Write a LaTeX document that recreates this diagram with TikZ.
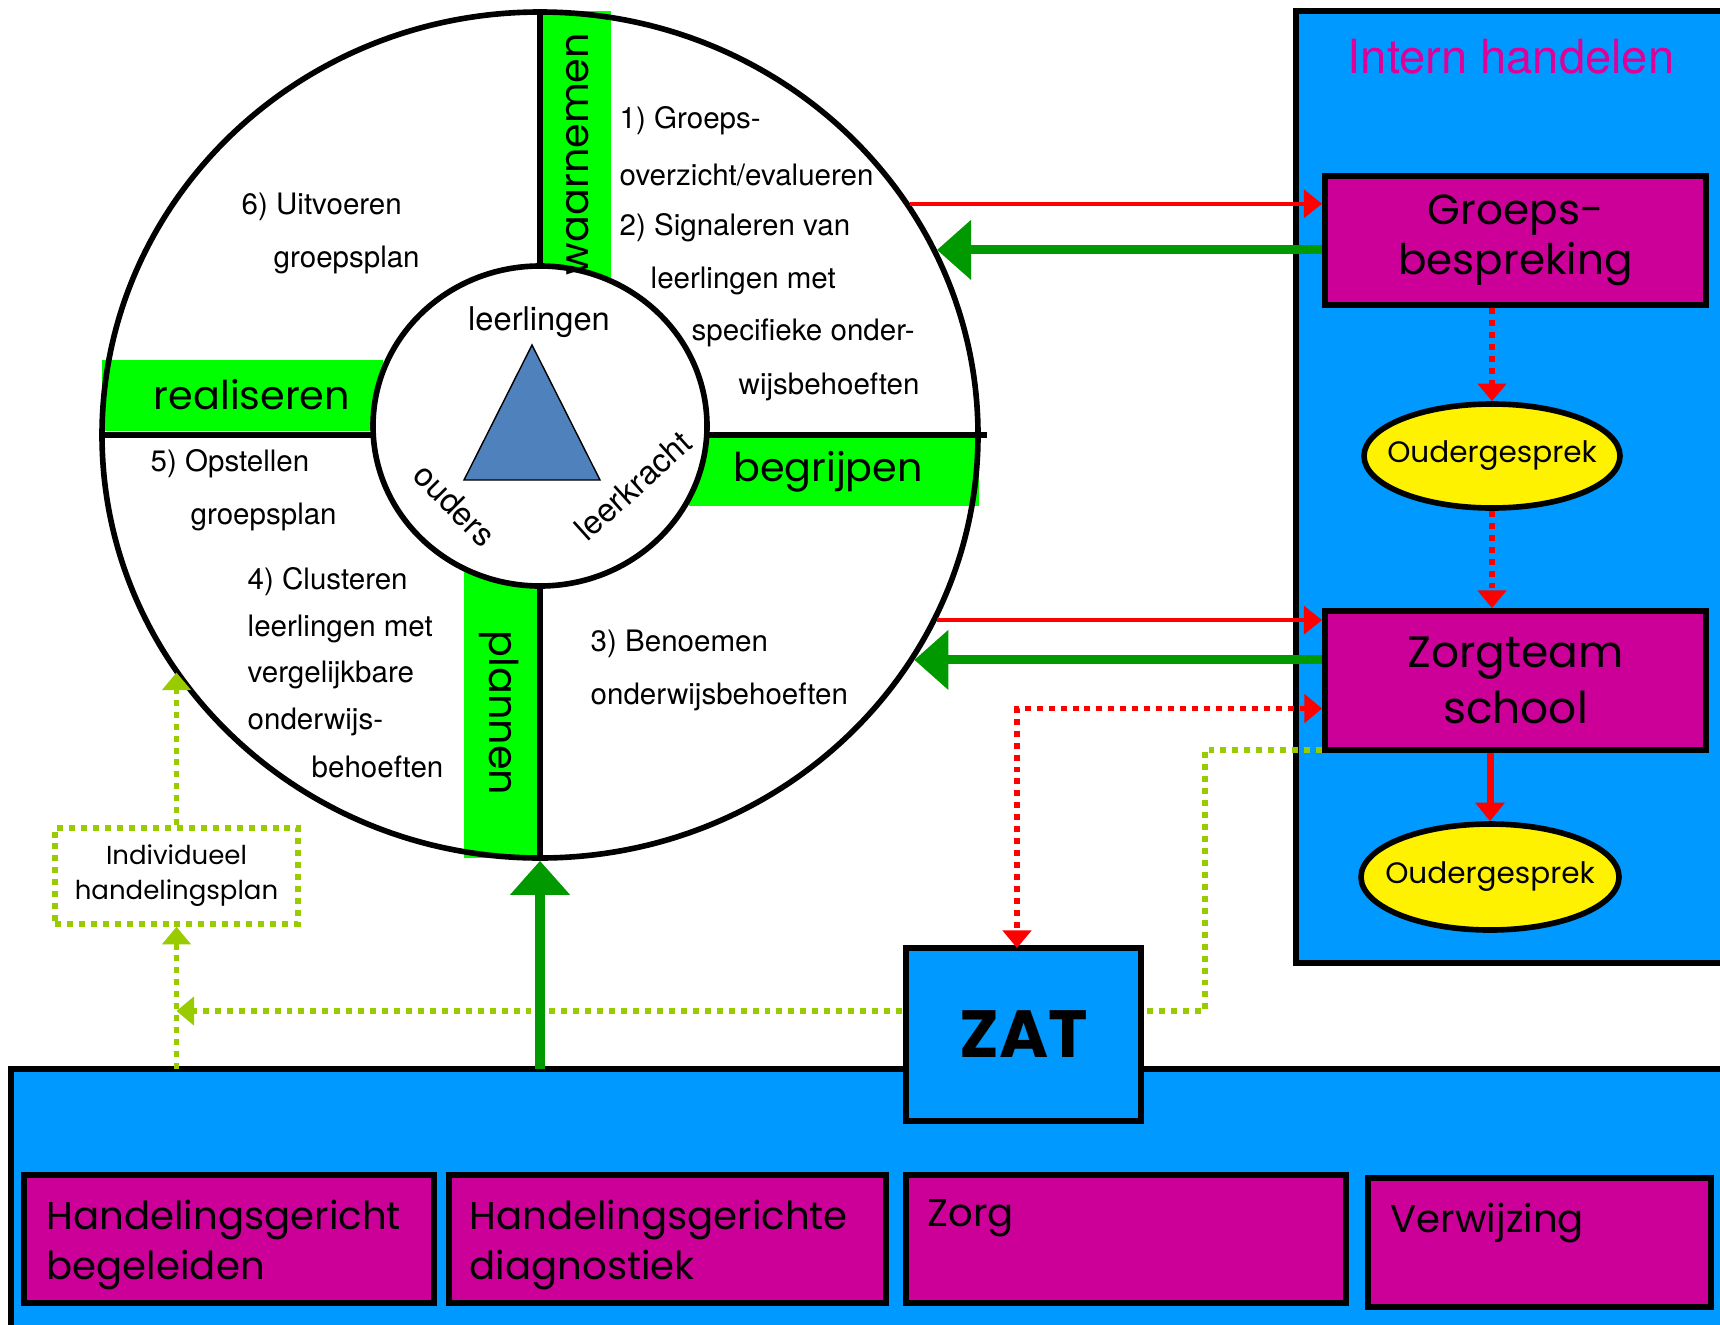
\documentclass[tikz,border=0pt]{standalone}
\usepackage{fontspec}
\setmainfont{TeX Gyre Heros}
\newfontfamily\comicfont{Poppins}
\usetikzlibrary{arrows.meta,shapes.geometric,positioning}

\definecolor{paneblue}{HTML}{0099FF}
\definecolor{boxmagenta}{HTML}{CC0099}
\definecolor{bandgreen}{HTML}{00FF00}
\definecolor{arrowgreen}{HTML}{009900}
\definecolor{dotgreen}{HTML}{99CC00}
\definecolor{triblue}{HTML}{4F81BD}
\definecolor{titlepink}{HTML}{DD0099}

\tikzset{
  panel/.style={draw=black, line width=1.7pt, fill=paneblue, inner sep=0pt, outer sep=0pt},
  magbox/.style={draw=black, line width=1.7pt, fill=boxmagenta, inner sep=0pt, align=center,
                 font=\comicfont\fontsize{12}{14.3}\selectfont},
  parentbubble/.style={ellipse, draw=black, line width=1.6pt, fill=yellow, inner xsep=-1.5mm, inner ysep=0pt,
                 font=\comicfont\fontsize{8.4}{10}\selectfont},
  bandlabel/.style={inner sep=0pt, font=\comicfont\fontsize{11.3}{13}\selectfont},
  wheeltext/.style={anchor=west, inner sep=0pt, font=\fontsize{8.4}{10}\selectfont},
  hubtext/.style={inner sep=0pt, font=\fontsize{9.3}{11}\selectfont},
  basetext/.style={anchor=north west, inner sep=0pt, align=left,
                 font=\comicfont\fontsize{11}{14.2}\selectfont},
  redline/.style={draw=red, line width=1.1pt, -{Triangle[length=5.2pt,width=8pt]}},
  greenline/.style={draw=arrowgreen, line width=2.6pt, -{Triangle[length=9.7pt,width=16.5pt]}},
  reddots/.style={draw=red, line width=1.7pt, dash pattern=on 1.7pt off 1.7pt},
  greendots/.style={draw=dotgreen, line width=1.6pt, dash pattern=on 1.7pt off 1.7pt},
  redtip/.style={-{Triangle[length=5pt,width=8pt]}},
  greentip/.style={-{Triangle[length=5pt,width=8pt]}}
}

\begin{document}
\begin{tikzpicture}[x=0.1mm, y=-0.1mm]
\useasboundingbox (0,0) rectangle (1720,1324);

% panels
\node[panel, anchor=north west, minimum width=46mm, minimum height=95.2mm] (intern) at (1296,11) {};
\node[inner sep=0pt, text=titlepink, font=\fontsize{13.4}{16}\selectfont] (interntitle) at (1511,57) {Intern handelen};
\node[panel, anchor=north west, minimum width=176mm, minimum height=30mm] (basis) at (11,1069) {};

% the wheel
\fill[bandgreen] (541,11) rectangle (611,278);
\fill[bandgreen] (102,360) rectangle (383,431);
\fill[bandgreen] (689,435) rectangle (979,506);
\fill[bandgreen] (464,572) rectangle (539,858);
\node[ellipse, draw, line width=1.6pt, minimum width=87.6mm, minimum height=84.6mm] (wheel) at (540,435) {};
\draw[line width=1.6pt] (wheel.north) -- (wheel.south);
\draw[line width=1.6pt] (wheel.west) -- ([xshift=0.6mm]wheel.east);
\node[ellipse, draw, fill=white, line width=1.6pt, minimum width=33.4mm, minimum height=32mm] (hub) at (540,426) {};

\node[bandlabel, rotate=90] (waarnemen) at (578,154) {waarnemen};
\node[bandlabel] (realiseren) at (252,395) {realiseren};
\node[bandlabel] (begrijpen) at (828,472) {begrijpen};
\node[bandlabel, rotate=-90] (plannen) at (499,713) {plannen};

\node[wheeltext] (s1a) at (619,121) {1) Groeps-};
\node[wheeltext] (s1b) at (619,175) {overzicht/evalueren};
\node[wheeltext] (s2a) at (619,228) {2) Signaleren van};
\node[wheeltext] (s2b) at (650,281) {leerlingen met};
\node[wheeltext] (s2c) at (691,333) {specifieke onder-};
\node[wheeltext] (s2d) at (738,387) {wijsbehoeften};
\node[wheeltext] (s3a) at (590,644) {3) Benoemen};
\node[wheeltext] (s3b) at (590,697) {onderwijsbehoeften};
\node[wheeltext] (s4a) at (247,582) {4) Clusteren};
\node[wheeltext] (s4b) at (247,629) {leerlingen met};
\node[wheeltext] (s4c) at (247,675) {vergelijkbare};
\node[wheeltext] (s4d) at (247,722) {onderwijs-};
\node[wheeltext] (s4e) at (311,767) {behoeften};
\node[wheeltext] (s5a) at (150,464) {5) Opstellen};
\node[wheeltext] (s5b) at (190,517) {groepsplan};
\node[wheeltext] (s6a) at (241,207) {6) Uitvoeren};
\node[wheeltext] (s6b) at (273,260) {groepsplan};

\filldraw[fill=triblue, draw=black, line width=0.4pt] (532,345) -- (600,480) -- (464,480) -- cycle;
\node[hubtext] (leerlingen) at (539,322) {leerlingen};
\node[hubtext, rotate=-45] (ouders) at (455,505) {ouders};
\node[hubtext, rotate=42] (leerkracht) at (633,486) {leerkracht};

% intern handelen
\node[magbox, minimum width=38.1mm, minimum height=12.9mm] (groeps) at (1515.5,240.5) {Groeps-\\bespreking};
\node[parentbubble, minimum width=25.6mm, minimum height=10.4mm] (ouder1) at (1492,456) {Oudergesprek};
\node[magbox, minimum width=38.1mm, minimum height=13.9mm, font=\comicfont\fontsize{12.5}{16}\selectfont] (zorg) at (1515.5,680.5) {Zorgteam\\school};
\node[parentbubble, minimum width=25.8mm, minimum height=10.6mm] (ouder2) at (1490,877) {Oudergesprek};

% individueel plan
\node[draw=dotgreen, line width=1.6pt, dash pattern=on 1.7pt off 1.7pt, minimum width=24.3mm, minimum height=9.6mm,
      align=center, inner sep=0pt, font=\comicfont\fontsize{7.4}{10}\selectfont] (ihp) at (176.5,876) {Individueel\\handelingsplan};

\coordinate (zatbend) at (1205,1011);
\draw[greendots, greentip] ([yshift=0.3mm]zorg.south west) -| (zatbend) -- (zatbend -| ihp.south);
\draw[greendots, greentip] (basis.north -| ihp.south) -- (ihp.south);
\draw[greendots, greentip] (ihp.north) -- (ihp.north |- wheel.213);
\draw[greenline] (basis.north -| wheel.south) -- (wheel.south);

\node[panel, minimum width=23.5mm, minimum height=17.3mm, font=\comicfont\bfseries\fontsize{19}{22}\selectfont] (zat) at (1023.5,1034.5) {ZAT};

% connectors
\draw[redline] (wheel.32) -- (wheel.32 -| groeps.west);
\draw[greenline] (groeps.west |- wheel.25) -- (wheel.25);
\draw[redline] (wheel.-25) -- (wheel.-25 -| zorg.west);
\draw[greenline] (zorg.west |- wheel.-31) -- (wheel.-31);
\draw[reddots, redtip] (groeps.south -| ouder1.north) -- (ouder1.north);
\draw[reddots, redtip] (ouder1.south) -- (ouder1.south |- zorg.north);
\draw[red, line width=2pt, -{Triangle[length=5.3pt,width=8.2pt]}] (zorg.south -| ouder2.north) -- (ouder2.north);
\draw[reddots, {Triangle[length=5pt,width=8pt]}-{Triangle[length=5pt,width=8pt]}] ([yshift=-2.8mm]zorg.west) -| ([xshift=-0.65mm]zat.north);

% bottom boxes
\node[magbox, minimum width=41mm, minimum height=12.8mm] (hgb) at (229,1239) {};
\node[magbox, minimum width=43.7mm, minimum height=12.8mm] (hgd) at (667.5,1239) {};
\node[magbox, minimum width=44mm, minimum height=12.8mm] (zorgbox) at (1126,1239) {};
\node[magbox, minimum width=34.3mm, minimum height=12.9mm] (verwijzing) at (1539.5,1242.5) {};
\node[basetext] (hgbtext) at ([xshift=2.5mm,yshift=-2.7mm]hgb.north west) {Handelingsgericht\\begeleiden};
\node[basetext] (hgdtext) at ([xshift=2.3mm,yshift=-2.7mm]hgd.north west) {Handelingsgerichte\\diagnostiek};
\node[basetext] (zorgtext) at ([xshift=2.4mm,yshift=-2.7mm]zorgbox.north west) {Zorg};
\node[basetext] (verwtext) at ([xshift=2.5mm,yshift=-2.7mm]verwijzing.north west) {Verwijzing};
\end{tikzpicture}
\end{document}
